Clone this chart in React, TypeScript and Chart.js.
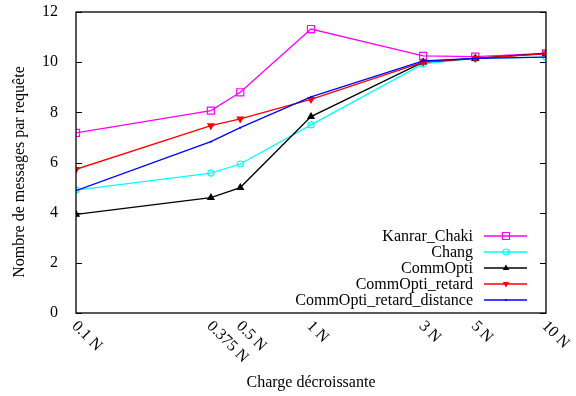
import React, { useEffect, useRef } from "react";
import { Chart, registerables } from "chart.js";

Chart.register(...registerables);

const xValues = [0.1, 0.375, 0.5, 1, 3, 5, 10];
const xTickLabels = ["0.1 N", "0.375 N", "0.5 N", "1 N", "3 N", "5 N", "10 N"];
const yTickValues = [0, 2, 4, 6, 8, 10, 12];

const seriesNames = ["Kanrar_Chaki", "Chang", "CommOpti", "CommOpti_retard", "CommOpti_retard_distance"];
const kanrarChaki = [7.18, 8.07, 8.8, 11.32, 10.25, 10.22, 10.35];
const chang = [4.9, 5.58, 5.94, 7.5, 9.93, 10.15, 10.2];
const commOpti = [3.93, 4.6, 5.0, 7.83, 10.0, 10.15, 10.35];
const commOptiRetard = [5.73, 7.47, 7.74, 8.52, 10.0, 10.15, 10.33];
const commOptiRetardDistance = [4.88, 6.83, 7.39, 8.62, 10.05, 10.15, 10.2];

const seriesValues = [kanrarChaki, chang, commOpti, commOptiRetard, commOptiRetardDistance];
const seriesColors = ["#ff00ff", "#00ffff", "#000000", "#ff0000", "#0000ff"];
const seriesMarkers = ["square", "circle", "triangle", "invtriangle", "dot"];

const FONT = "'Liberation Serif', 'Times New Roman', serif";
const FONT_SIZE = 16;

function drawMarker(ctx: CanvasRenderingContext2D, kind: string, x: number, y: number, color: string) {
  ctx.save();
  ctx.strokeStyle = color;
  ctx.fillStyle = color;
  ctx.lineWidth = 1.2;
  ctx.beginPath();
  if (kind === "square") {
    ctx.rect(x - 3.5, y - 3.5, 7, 7);
    ctx.stroke();
  } else if (kind === "circle") {
    ctx.arc(x, y, 3, 0, Math.PI * 2);
    ctx.stroke();
  } else if (kind === "triangle") {
    ctx.moveTo(x, y - 3.5);
    ctx.lineTo(x + 3.2, y + 2);
    ctx.lineTo(x - 3.2, y + 2);
    ctx.closePath();
    ctx.fill();
  } else if (kind === "invtriangle") {
    ctx.moveTo(x, y + 3.5);
    ctx.lineTo(x + 3.2, y - 2);
    ctx.lineTo(x - 3.2, y - 2);
    ctx.closePath();
    ctx.fill();
  } else {
    ctx.arc(x, y, 1, 0, Math.PI * 2);
    ctx.fill();
  }
  ctx.restore();
}

const customPlugin = {
  id: "gnuplotStyle",
  afterDatasetsDraw(chart: any) {
    const ctx: CanvasRenderingContext2D = chart.ctx;
    const area = chart.chartArea;
    const xs = chart.scales.x;
    const ys = chart.scales.y;
    ctx.save();
    // frame
    ctx.strokeStyle = "#000";
    ctx.lineWidth = 1.3;
    ctx.strokeRect(area.left, area.top, area.right - area.left, area.bottom - area.top);
    // y ticks inward on both sides
    ctx.lineWidth = 1;
    for (const v of yTickValues) {
      const py = Math.round(ys.getPixelForValue(v)) + 0.5;
      ctx.beginPath();
      ctx.moveTo(area.left, py);
      ctx.lineTo(area.left + 6, py);
      ctx.moveTo(area.right, py);
      ctx.lineTo(area.right - 6, py);
      ctx.stroke();
    }
    // x tick labels rotated
    ctx.fillStyle = "#000";
    ctx.font = `${FONT_SIZE}px ${FONT}`;
    ctx.textAlign = "left";
    ctx.textBaseline = "top";
    xValues.forEach((v, i) => {
      const px = xs.getPixelForValue(v);
      ctx.save();
      ctx.translate(px + 4, area.bottom + 5);
      ctx.rotate(Math.PI / 4);
      ctx.fillText(xTickLabels[i], 0, 0);
      ctx.restore();
    });
    // axis titles
    ctx.textAlign = "center";
    ctx.textBaseline = "middle";
    ctx.fillText("Charge décroissante", (area.left + area.right) / 2, 383);
    ctx.save();
    ctx.translate(20, 172);
    ctx.rotate(-Math.PI / 2);
    ctx.fillText("Nombre de messages par requête", 0, 0);
    ctx.restore();
    // legend
    ctx.textAlign = "right";
    ctx.textBaseline = "middle";
    seriesNames.forEach((name, i) => {
      const cy = area.bottom - 77 + i * 16;
      ctx.fillStyle = "#000";
      ctx.fillText(name, area.right - 73, cy + 1);
      ctx.strokeStyle = seriesColors[i];
      ctx.lineWidth = 1.3;
      ctx.beginPath();
      ctx.moveTo(area.right - 62, cy);
      ctx.lineTo(area.right - 19, cy);
      ctx.stroke();
      drawMarker(ctx, seriesMarkers[i], area.right - 40, cy, seriesColors[i]);
    });
    ctx.restore();
  },
};

export default function App() {
  const canvasRef = useRef<HTMLCanvasElement | null>(null);

  useEffect(() => {
    const prevMargin = document.body.style.margin;
    document.body.style.margin = "0";
    const canvas = canvasRef.current;
    if (!canvas) return;
    const datasets = seriesValues.map((vals, i) => {
      const kind = seriesMarkers[i];
      const base: any = {
        label: seriesNames[i],
        data: xValues.map((x, j) => ({ x, y: vals[j] })),
        borderColor: seriesColors[i],
        borderWidth: 1.3,
        tension: 0,
        fill: false,
        order: seriesNames.length - i,
        pointBorderColor: seriesColors[i],
        pointBorderWidth: 1.2,
      };
      if (kind === "square") {
        Object.assign(base, { pointStyle: "rect", pointRadius: 5, pointBackgroundColor: "rgba(0,0,0,0)" });
      } else if (kind === "circle") {
        Object.assign(base, { pointStyle: "circle", pointRadius: 3, pointBackgroundColor: "rgba(0,0,0,0)" });
      } else if (kind === "triangle") {
        Object.assign(base, { pointStyle: "triangle", pointRadius: 3.5, pointBackgroundColor: seriesColors[i] });
      } else if (kind === "invtriangle") {
        Object.assign(base, { pointStyle: "triangle", pointRotation: 180, pointRadius: 3.5, pointBackgroundColor: seriesColors[i] });
      } else {
        Object.assign(base, { pointStyle: "circle", pointRadius: 1, pointBorderWidth: 0, pointBackgroundColor: seriesColors[i] });
      }
      return base;
    });
    const chart = new Chart(canvas, {
      type: "line",
      data: { datasets },
      options: {
        animation: false,
        responsive: false,
        maintainAspectRatio: false,
        layout: { padding: { left: 0, right: 30, top: 12, bottom: 0 } },
        plugins: { legend: { display: false }, tooltip: { enabled: false } },
        scales: {
          x: {
            type: "logarithmic",
            min: 0.1,
            max: 10,
            ticks: { display: false },
            grid: { display: false },
            border: { display: false },
            afterFit: (scale: any) => {
              scale.height = 83;
              scale.paddingLeft = 0;
              scale.paddingRight = 0;
            },
          },
          y: {
            type: "linear",
            min: 0,
            max: 12,
            ticks: {
              stepSize: 2,
              padding: 10,
              color: "#000",
              font: { family: FONT, size: FONT_SIZE },
            },
            grid: { display: false },
            border: { display: false },
            afterFit: (scale: any) => {
              scale.width = 76;
              scale.paddingTop = 0;
              scale.paddingBottom = 0;
            },
          },
        },
      },
      plugins: [customPlugin],
    });
    return () => {
      chart.destroy();
      document.body.style.margin = prevMargin;
    };
  }, []);

  return (
    <div style={{ position: "absolute", left: 0, top: 0, width: 576, height: 396, background: "#fff" }}>
      <canvas ref={canvasRef} width={576} height={396} style={{ width: 576, height: 396, display: "block" }} />
    </div>
  );
}
